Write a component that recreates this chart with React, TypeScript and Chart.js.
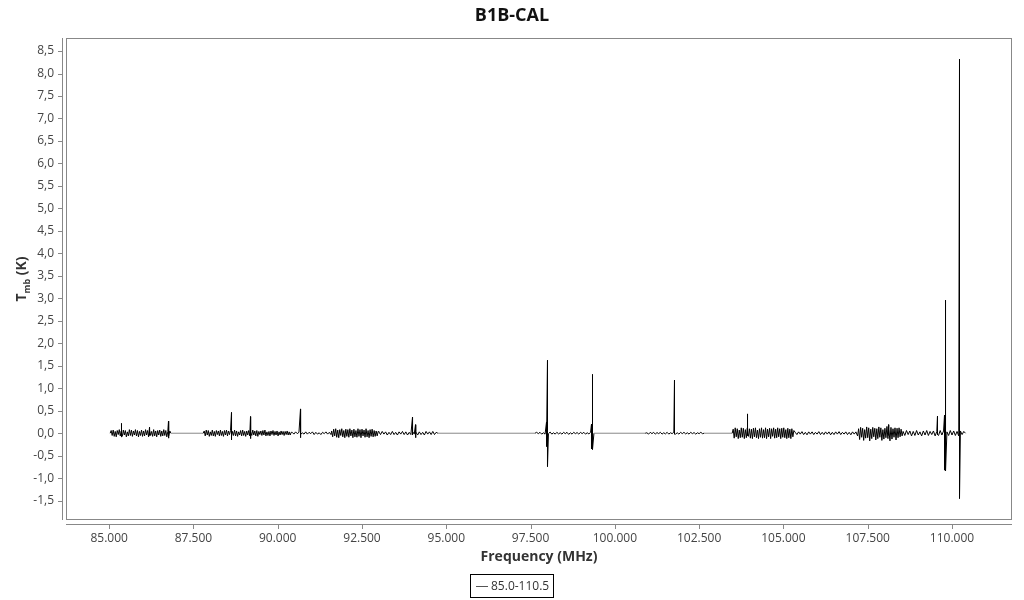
import React, { useEffect, useRef } from "react";
import { Chart, registerables } from "chart.js";

Chart.register(...registerables);

const TITLE = "B1B-CAL";
const X_TITLE = "Frequency (MHz)";
const LEGEND_LABEL = "85.0-110.5";
const X_TICKS = [85, 87.5, 90, 92.5, 95, 97.5, 100, 102.5, 105, 107.5, 110];
const Y_TICKS = [-1.5, -1, -0.5, 0, 0.5, 1, 1.5, 2, 2.5, 3, 3.5, 4, 4.5, 5, 5.5, 6, 6.5, 7, 7.5, 8, 8.5];

// Spectrum sub-bands: start frequency (MHz), channel step (MHz) and Tmb values (K)
const SEGMENT_STARTS = [85.03, 87.79, 90.43, 91.6, 93.0, 97.63, 100.9, 103.48, 105.35, 107.2, 108.55];
const SEGMENT_STEPS = [0.03, 0.03, 0.05, 0.03, 0.05, 0.05, 0.05, 0.03, 0.05, 0.03, 0.05];

const SEG_A = [0, 0.06, -0.05, 0.07, -0.07, 0.04, -0.08, 0.06, -0.03, 0.08, -0.06, 0.05, -0.07, 0.07, -0.04, 0.06, -0.08, 0.03, -0.06, 0.08, -0.05, 0.07, -0.07, 0.05, -0.04, 0.08, -0.06, 0.06, -0.08, 0.04, -0.05, 0.07, -0.07, 0.05, -0.06, 0.08, -0.04, 0.06, -0.08, 0.07, -0.05, 0.04, -0.07, 0.08, -0.06, 0.05, -0.08, 0.06, -0.04, 0.07, -0.07, 0.05, -0.06, 0.08, -0.05, 0.06, -0.08, 0.04, -0.06, 0.05, 0];
const SEG_B1 = [0, 0.05, -0.06, 0.07, -0.04, 0.06, -0.07, 0.03, -0.05, 0.07, -0.06, 0.04, -0.07, 0.06, -0.03, 0.05, -0.06, 0.07, -0.05, 0.04, -0.07, 0.06, -0.04, 0.07, -0.06, 0.05, -0.03, 0.06, -0.07, 0.04,
  -0.05, 0.07, -0.06, 0.05, -0.07, 0.03, -0.04, 0.06, -0.06, 0.07, -0.05, 0.04, -0.07, 0.05, -0.04, 0.06, -0.06, 0.03, -0.05, 0.07,
  -0.04, 0.05, -0.06, 0.06, -0.07, 0.04, -0.03, 0.05, -0.05, 0.06, -0.04, 0.07, -0.06, 0.03, -0.05, 0.04, -0.06, 0.05, -0.03, 0.06,
  -0.05, 0.04, -0.04, 0.05, -0.06, 0.03, -0.04, 0.05, -0.03, 0.04, -0.05, 0.04, -0.03, 0.05, -0.04, 0.03, -0.04, 0.02];
const SEG_B2 = [0.02, -0.02, 0.03, -0.01, 0.02, -0.03, 0.01, -0.02, 0.03, -0.02, 0.02, -0.01, 0.03, -0.03, 0.02, -0.02, 0.01, -0.03, 0.02, -0.01, 0.03, -0.02, 0.02, -0.03];
const SEG_B3 = [0.05, -0.08, 0.09, -0.06, 0.1, -0.09, 0.07, -0.1, 0.08, -0.05, 0.1, -0.08, 0.06, -0.1, 0.09, -0.07, 0.08, -0.09, 0.1, -0.06, 0.07, -0.1, 0.09, -0.08, 0.06, -0.09, 0.1, -0.07, 0.08, -0.1, 0.09, -0.06, 0.07, -0.09, 0.1, -0.08, 0.06, -0.1, 0.08, -0.07, 0.09, -0.08, 0.06, -0.07, 0.05, -0.06, 0.04];
const SEG_B4 = [0.03, -0.03, 0.04, -0.02, 0.03, -0.04, 0.02, -0.03, 0.04, -0.03, 0.02, -0.04, 0.03, -0.02, 0.04, -0.03, 0.03, -0.04, 0.02, -0.03, 0.04, -0.02, 0.03, -0.04, 0.03, -0.03, 0.02, -0.04, 0.04, -0.02, 0.03, -0.03, 0.04, -0.03, 0.02, 0];
const SEG_C = [0, 0.02, -0.01, 0.02, -0.02, 0.01, -0.02, 0.02, -0.01, 0.025, -0.02, 0.01, -0.02, 0.02, -0.015, 0.01, -0.02, 0.02, -0.01, 0.02, -0.025, 0.01, -0.02, 0.02, -0.01, 0.015, -0.02, 0.02, -0.01, 0.02, -0.02, 0.01, -0.015, 0.02, -0.01, 0];
const SEG_D = [0, 0.01, -0.02, 0.02, -0.01, 0.02, -0.02, 0.015, -0.01, 0.02, -0.02, 0.01, -0.015, 0.02, -0.02, 0.01, -0.01, 0.025, -0.02, 0.01, -0.02, 0.02, -0.01, 0.02, -0.015, 0.01, -0.02, 0.02, -0.01, 0.015, -0.02, 0.01, -0.01, 0.02, -0.01, 0];
const SEG_E1 = [0, 0.09, -0.11, 0.12, -0.08, 0.1, -0.12, 0.07, -0.1, 0.12, -0.09, 0.11, -0.12, 0.08, -0.1, 0.12, -0.07, 0.1, -0.11, 0.09, -0.12, 0.11, -0.08, 0.12, -0.1, 0.07, -0.12, 0.1, -0.09, 0.12,
  -0.11, 0.08, -0.1, 0.12, -0.12, 0.09, -0.08, 0.11, -0.12, 0.1, -0.07, 0.12, -0.11, 0.09, -0.1, 0.12, -0.08, 0.1, -0.12, 0.11,
  -0.09, 0.12, -0.1, 0.08, -0.12, 0.11, -0.1, 0.09, -0.12, 0.1, -0.08, 0.06];
const SEG_E2 = [0.02, -0.03, 0.03, -0.02, 0.035, -0.03, 0.02, -0.035, 0.03, -0.02, 0.03, -0.03, 0.02, -0.02, 0.035, -0.03, 0.02, -0.03, 0.03, -0.02, 0.03, -0.035, 0.02, -0.03, 0.03, -0.02, 0.035, -0.03, 0.02, -0.02, 0.03, -0.03, 0.02, -0.035, 0.03, -0.02, 0.03];
const SEG_E3 = [-0.06, 0.1, -0.14, 0.13, -0.09, 0.11, -0.16, 0.08, -0.11, 0.14, -0.1, 0.12, -0.17, 0.09, -0.12, 0.13, -0.08, 0.11, -0.15, 0.1, -0.12, 0.14, -0.09, 0.12, -0.16, 0.08, -0.13, 0.11, -0.1, 0.15, -0.12, 0.09, -0.17, 0.13, -0.13, 0.1, -0.09, 0.12, -0.15, 0.11, -0.1, 0.12, -0.08, 0.09, -0.06];
const SEG_E4 = [0.04, -0.05, 0.06, -0.03, 0.05, -0.06, 0.04, -0.05, 0.06, -0.04, 0.03, -0.06, 0.05, -0.04, 0.06, -0.05, 0.04, -0.03, 0.05, -0.06, 0.04, -0.05, 0.06, -0.04, 0.05, -0.06, 0.03, -0.05, 0.06, -0.04, 0.05, -0.05, 0.04, -0.06, 0.05, -0.03, 0.04, 0];

const SEGMENTS = [SEG_A, SEG_B1, SEG_B2, SEG_B3, SEG_B4, SEG_C, SEG_D, SEG_E1, SEG_E2, SEG_E3, SEG_E4];

// Spectral lines / spikes: frequency (MHz), peak (K), trough (K)
const SPIKE_FREQS = [85.366, 86.197, 86.76, 88.629, 89.193, 90.676, 93.998, 94.087, 97.973, 98.002, 99.307, 99.337, 101.769, 103.935, 108.117, 109.57, 109.778, 109.808, 110.223];
const SPIKE_HIGH = [0.22, 0.13, 0.27, 0.46, 0.37, 0.54, 0.36, 0.19, 0.25, 1.62, 0.2, 1.31, 1.18, 0.43, 0.19, 0.38, 0.4, 2.96, 8.32];
const SPIKE_LOW = [-0.08, -0.05, -0.11, -0.15, -0.12, -0.1, -0.04, -0.1, -0.3, -0.74, -0.35, -0.36, -0.02, -0.05, -0.05, -0.03, -0.82, -0.84, -1.45];

const FONT = "'Open Sans', 'Noto Sans', sans-serif";

function buildPoints() {
  const pts: { x: number; y: number }[] = [];
  SEGMENTS.forEach((vals, s) => {
    vals.forEach((v, i) => {
      pts.push({ x: +(SEGMENT_STARTS[s] + i * SEGMENT_STEPS[s]).toFixed(4), y: v });
    });
  });
  SPIKE_FREQS.forEach((f, i) => {
    pts.push({ x: f, y: SPIKE_HIGH[i] });
    pts.push({ x: f, y: SPIKE_LOW[i] });
  });
  pts.sort((a, b) => a.x - b.x);
  return pts;
}

const framePlugin = {
  id: "frame",
  afterDraw(chart: any) {
    const { ctx, chartArea: a, scales } = chart;
    ctx.save();
    ctx.strokeStyle = "#888";
    ctx.lineWidth = 1;
    ctx.strokeRect(a.left + 0.5, a.top + 0.5, a.right - a.left - 1, a.bottom - a.top - 1);
    // y axis line and ticks
    ctx.beginPath();
    ctx.moveTo(62.5, a.top);
    ctx.lineTo(62.5, a.bottom);
    Y_TICKS.forEach((v) => {
      const y = Math.round(scales.y.getPixelForValue(v)) + 0.5;
      ctx.moveTo(58, y);
      ctx.lineTo(62, y);
    });
    // x axis line and ticks
    ctx.moveTo(a.left, a.bottom + 4.5);
    ctx.lineTo(a.right, a.bottom + 4.5);
    X_TICKS.forEach((v) => {
      const x = Math.round(scales.x.getPixelForValue(v)) + 0.5;
      ctx.moveTo(x, a.bottom + 5);
      ctx.lineTo(x, a.bottom + 9);
    });
    ctx.stroke();

    // title
    ctx.fillStyle = "#111";
    ctx.textAlign = "center";
    ctx.textBaseline = "middle";
    ctx.font = `bold 18px ${FONT}`;
    ctx.fillText(TITLE, 512, 16);

    // x title
    ctx.fillStyle = "#333";
    ctx.font = `bold 14px ${FONT}`;
    ctx.fillText(X_TITLE, (a.left + a.right) / 2, 557);

    // y title with subscript
    ctx.save();
    ctx.translate(22, (a.top + a.bottom) / 2);
    ctx.rotate(-Math.PI / 2);
    ctx.textAlign = "left";
    ctx.textBaseline = "middle";
    const big = `bold 14px ${FONT}`;
    const small = `bold 9px ${FONT}`;
    ctx.font = big;
    const wT = ctx.measureText("T").width;
    const wK = ctx.measureText(" (K)").width;
    ctx.font = small;
    const wS = ctx.measureText("mb").width;
    const total = wT + wS + wK;
    let x0 = -total / 2;
    ctx.font = big;
    ctx.fillText("T", x0, 0);
    x0 += wT;
    ctx.font = small;
    ctx.fillText("mb", x0, 5);
    x0 += wS;
    ctx.font = big;
    ctx.fillText(" (K)", x0, 0);
    ctx.restore();

    // legend
    ctx.strokeStyle = "#000";
    ctx.strokeRect(470.5, 574.5, 83, 23);
    ctx.strokeStyle = "#555";
    ctx.beginPath();
    ctx.moveTo(476, 586.5);
    ctx.lineTo(488, 586.5);
    ctx.stroke();
    ctx.fillStyle = "#333";
    ctx.textAlign = "left";
    ctx.textBaseline = "middle";
    ctx.font = `12px ${FONT}`;
    ctx.fillText(LEGEND_LABEL, 491, 587);
    ctx.restore();
  },
};

export default function App() {
  const ref = useRef<HTMLCanvasElement>(null);
  useEffect(() => {
    if (!ref.current) return;
    const chart = new Chart(ref.current, {
      type: "line",
      data: {
        datasets: [
          {
            label: LEGEND_LABEL,
            data: buildPoints(),
            borderColor: "#000",
            borderWidth: 1,
            pointRadius: 0,
            tension: 0,
            segment: {
              borderColor: (c: any) => (c.p1.parsed.x - c.p0.parsed.x > 0.3 ? "#888" : "#000"),
            },
          },
        ],
      },
      options: {
        animation: false,
        responsive: false,
        events: [],
        layout: { padding: { top: 38, right: 12, left: 0, bottom: 0 } },
        plugins: { legend: { display: false }, title: { display: false }, tooltip: { enabled: false } },
        scales: {
          x: {
            type: "linear",
            min: 83.72,
            max: 111.78,
            grid: { display: false, drawTicks: false },
            border: { display: false },
            afterBuildTicks: (s: any) => {
              s.ticks = X_TICKS.map((v) => ({ value: v }));
            },
            afterFit: (s: any) => {
              s.height = 80;
            },
            ticks: {
              autoSkip: false,
              maxRotation: 0,
              padding: 11,
              color: "#444",
              font: { family: FONT, size: 12 },
              callback: (v: any) => Number(v).toFixed(3),
            },
          },
          y: {
            type: "linear",
            min: -1.93,
            max: 8.79,
            grid: { display: false, drawTicks: false },
            border: { display: false },
            afterBuildTicks: (s: any) => {
              s.ticks = Y_TICKS.map((v) => ({ value: v }));
            },
            afterFit: (s: any) => {
              s.width = 66;
            },
            ticks: {
              autoSkip: false,
              padding: 12,
              color: "#444",
              font: { family: FONT, size: 12 },
              callback: (v: any) => Number(v).toFixed(1).replace(".", ","),
            },
          },
        },
      },
      plugins: [framePlugin],
    } as any);
    return () => chart.destroy();
  }, []);
  return (
    <div style={{ position: "fixed", left: 0, top: 0, width: 1024, height: 600, background: "#fff" }}>
      <canvas ref={ref} width={1024} height={600} />
    </div>
  );
}
